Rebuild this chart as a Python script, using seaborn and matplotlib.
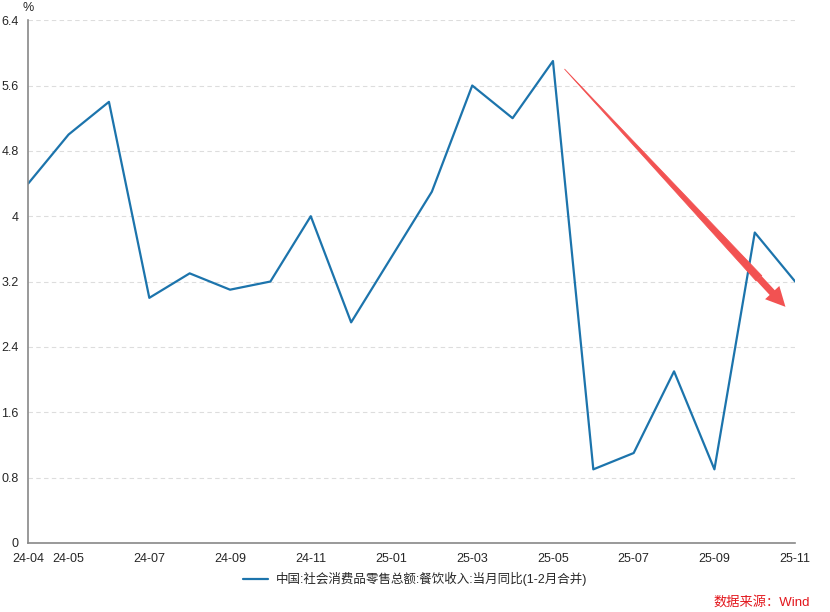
import pandas as pd
import seaborn as sns
import matplotlib.pyplot as plt

months = ["24-04", "24-05", "24-06", "24-07", "24-08", "24-09", "24-10", "24-11", "24-12", "25-01",
          "25-02", "25-03", "25-04", "25-05", "25-06", "25-07", "25-08", "25-09", "25-10", "25-11"]
values = [4.4, 5.0, 5.4, 3.0, 3.3, 3.1, 3.2, 4.0, 2.7, 3.5,
          4.3, 5.6, 5.2, 5.9, 0.9, 1.1, 2.1, 0.9, 3.8, 3.2]
tickMonths = ["24-04", "24-05", "24-07", "24-09", "24-11", "25-01", "25-03", "25-05", "25-07", "25-09", "25-11"]
yTicks = [0, 0.8, 1.6, 2.4, 3.2, 4, 4.8, 5.6, 6.4]
seriesName = "中国:社会消费品零售总额:餐饮收入:当月同比(1-2月合并)"

sns.set_style("white")
plt.rcParams['font.family'] = ['Liberation Sans', 'Noto Sans CJK SC', 'DejaVu Sans']

df = pd.DataFrame({"month": months, "value": values})
df["pos"] = range(len(df))

fig = plt.figure(figsize=(8.3, 6.12), dpi=100)
ax = fig.add_axes([0.034, 0.113, 0.924, 0.854])

sns.lineplot(data=df, x="pos", y="value", color="#1c74ac", linewidth=1.6, label=seriesName, ax=ax, legend=False)

ax.set_xlim(0, len(months) - 1)
ax.set_ylim(0, 6.4)
ax.set_xticks([months.index(m) for m in tickMonths])
ax.set_xticklabels(tickMonths)
ax.set_yticks(yTicks)
ax.set_yticklabels([f"{t:g}" for t in yTicks])
ax.set_xlabel("")
ax.set_ylabel("")
ax.tick_params(axis="both", labelsize=9, length=6, width=1, color="#666666", direction="out", pad=1)
ax.yaxis.grid(True, linestyle=(0, (4, 3)), color="#dddddd", linewidth=0.8)
ax.set_axisbelow(True)
for s in ["top", "right"]:
    ax.spines[s].set_visible(False)
for s in ["left", "bottom"]:
    ax.spines[s].set_color("#888888")
    ax.spines[s].set_linewidth(1.2)

# downward trend arrow: tapered body (thin at start) plus a head
arrowStart = (13.29, 5.8)
arrowEnd = (18.76, 2.89)
headBase = (arrowStart[0] + 0.88 * (arrowEnd[0] - arrowStart[0]),
            arrowStart[1] + 0.88 * (arrowEnd[1] - arrowStart[1]))
ax.annotate("", xy=arrowStart, xytext=headBase,
            arrowprops=dict(arrowstyle="wedge,tail_width=0.55,shrink_factor=0.5",
                            color="#f25252", lw=0.6, shrinkA=0, shrinkB=0))
ax.annotate("", xy=arrowEnd, xytext=headBase,
            arrowprops=dict(arrowstyle="simple,head_length=1.4,head_width=1.4,tail_width=0.5",
                            color="#f25252", lw=0, shrinkA=0, shrinkB=0))

fig.text(0.034, 0.997, "%", ha="center", va="top", fontsize=9)
handles, labels = ax.get_legend_handles_labels()
fig.legend(handles, labels, loc="center", bbox_to_anchor=(0.5, 0.054), frameon=False, fontsize=9,
           handlelength=2, handletextpad=0.6)
fig.text(0.976, 0.006, "数据来源：Wind", color="#e3161c", ha="right", va="bottom", fontsize=9.5)

plt.savefig("out.png")
